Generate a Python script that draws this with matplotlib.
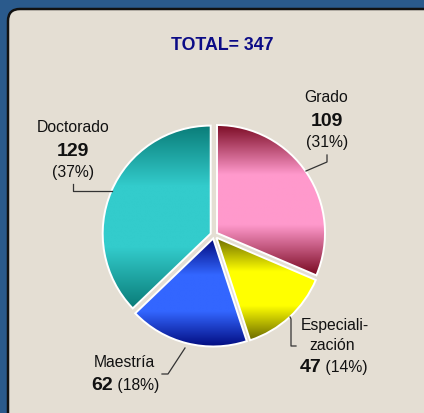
import numpy as np
import matplotlib
matplotlib.use("Agg")
import matplotlib.pyplot as plt
from matplotlib.patches import FancyBboxPatch
from matplotlib.colors import LinearSegmentedColormap

plt.rcParams["font.family"] = ["Liberation Sans", "DejaVu Sans"]

# DATA
categories = ["Grado", "Especialización", "Maestría", "Doctorado"]
values = [109, 47, 62, 129]
percents = ["(31%)", "(14%)", "(18%)", "(37%)"]
total = sum(values)

# gradient colours per slice: edge (dark) and middle (light)
dark_colors = ["#7a0a22", "#6b6a00", "#00087a", "#0a7c78"]
light_colors = ["#ff99cc", "#ffff00", "#3366ff", "#33cccc"]

W, H = 424, 414
fig = plt.figure(figsize=(W / 100, H / 100), dpi=100)
fig.patch.set_facecolor("#2a5a8c")
ax = fig.add_axes([0, 0, 1, 1])
ax.set_xlim(0, W)
ax.set_ylim(0, H)
ax.axis("off")

def py(y):
    # pixel row (from top) -> data y
    return H - y

# beige panel with rounded corners
panel = FancyBboxPatch((8, py(430)), 430, 420, boxstyle="round,pad=0,rounding_size=12",
                       facecolor="#e4ded3", edgecolor="#111111", linewidth=1.8, zorder=0)
ax.add_patch(panel)

ax.text(222, py(46), f"TOTAL= {total}", ha="center", va="center",
        fontsize=12.8, fontweight="bold", color="#0b0b86")

# pie (explode is in data units = pixels here)
center = (214, py(236))
radius = 108
wedges, _ = ax.pie(values, startangle=90, counterclock=False, center=center,
                   radius=radius, explode=[3.6] * len(values),
                   wedgeprops=dict(edgecolor="white", linewidth=1.4, facecolor="none"))
ax.set_aspect("equal")

grad = np.linspace(0, 1, 256).reshape(-1, 1)
for w, dc, lc in zip(wedges, dark_colors, light_colors):
    w.set_zorder(3)
    verts = w.get_patch_transform().transform(w.get_path().vertices)
    x0, y0 = verts.min(axis=0)
    x1, y1 = verts.max(axis=0)
    cmap = LinearSegmentedColormap.from_list("g", [dc, lc, lc, dc], N=256)
    im = ax.imshow(grad, cmap=cmap, extent=(x0, x1, y0, y1), origin="lower",
                   aspect="auto", zorder=2, interpolation="bilinear")
    im.set_clip_path(w)
ax.set_xlim(0, W)
ax.set_ylim(0, H)

txt = dict(color="#111111", fontsize=11.3)
num = dict(color="#111111", fontsize=14, fontweight="bold")
line = dict(color="#333333", linewidth=0.9, zorder=4)

# Grado
ax.text(326, py(98), categories[0], ha="center", va="center", **txt)
ax.text(327, py(121), str(values[0]), ha="center", va="center", **num)
ax.text(327, py(142), percents[0], ha="center", va="center", **txt)
ax.plot([327, 327, 306], [py(156), py(163), py(172)], **line)

# Especialización
ax.text(335, py(326), "Especiali-", ha="center", va="center", **txt)
ax.text(332, py(346), "zación", ha="center", va="center", **txt)
ax.text(321, py(368), str(values[1]), ha="right", va="center", **num)
ax.text(321, py(368), " " + percents[1], ha="left", va="center", **txt)
ax.plot([290, 291, 291, 296], [py(318), py(320), py(347), py(347)], **line)

# Maestría
ax.text(124, py(363), "Maestría", ha="center", va="center", **txt)
ax.text(113, py(386), str(values[2]), ha="right", va="center", **num)
ax.text(113, py(386), " " + percents[2], ha="left", va="center", **txt)
ax.plot([185, 168, 162], [py(349), py(375), py(375)], **line)

# Doctorado
ax.text(73, py(128), categories[3], ha="center", va="center", **txt)
ax.text(73, py(151), str(values[3]), ha="center", va="center", **num)
ax.text(73, py(172), percents[3], ha="center", va="center", **txt)
ax.plot([73, 73, 112], [py(185), py(192), py(192)], **line)

fig.savefig("out.png", dpi=100, facecolor=fig.get_facecolor())
